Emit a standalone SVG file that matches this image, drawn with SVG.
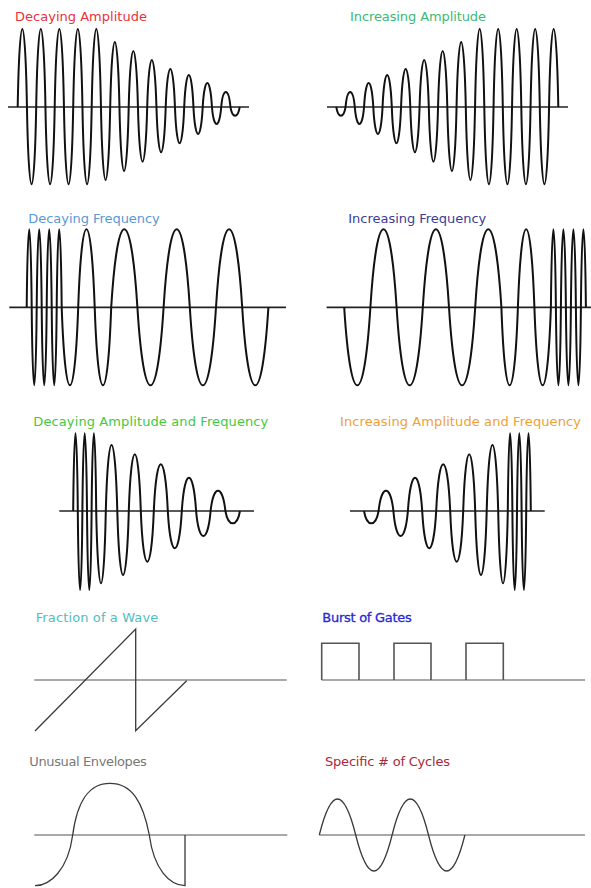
<svg xmlns="http://www.w3.org/2000/svg" width="591" height="888" viewBox="0 0 591 888">
<style>
.wave{fill:none;stroke:#111;stroke-width:2;stroke-linejoin:round}
.axis{fill:none;stroke:#222;stroke-width:1.7}
.gax{fill:none;stroke:#8c8c8c;stroke-width:1.5}
.thin{fill:none;stroke:#3a3a3a;stroke-width:1.3}
.gate{fill:none;stroke:#555;stroke-width:1.6}
.lbl{font-family:"DejaVu Sans","Liberation Sans",sans-serif;font-size:13px}
</style>
<rect width="591" height="888" fill="#fff"/>
<defs>
<g id="p1">
<path class="axis" d="M8,107 H249"/>
<path class="wave" d="M17.7,107 c1.85,-104 7.4,-104 9.25,0 c1.85,103 7.4,103 9.25,0 c1.85,-104 7.4,-104 9.25,0 c1.85,103 7.4,103 9.25,0 c1.85,-104 7.4,-104 9.25,0 c1.85,103 7.4,103 9.25,0 c1.85,-104 7.4,-104 9.25,0 c1.85,103 7.4,103 9.25,0 c1.85,-104 7.4,-104 9.25,0 c1.85,97.3 7.4,97.3 9.25,0 c1.85,-86.7 7.4,-86.7 9.25,0 c1.85,85.3 7.4,85.3 9.25,0 c1.85,-74.7 7.4,-74.7 9.25,0 c1.85,72.9 7.4,72.9 9.25,0 c1.85,-62.7 7.4,-62.7 9.25,0 c1.85,60.4 7.4,60.4 9.25,0 c1.85,-50.7 7.4,-50.7 9.25,0 c1.85,48.4 7.4,48.4 9.25,0 c1.85,-42.7 7.4,-42.7 9.25,0 c1.85,36 7.4,36 9.25,0 c1.85,-32 7.4,-32 9.25,0 c1.85,22.7 7.4,22.7 9.25,0 c1.85,-20 7.4,-20 9.25,0 c1.85,11.6 7.4,11.6 9.25,0"/>
</g>
<g id="p3">
<path class="axis" d="M9.3,307.3 H286"/>
<path class="wave" d="M26.7,307.3 c1,-104 4,-104 5,0 c1,104 4,104 5,0 c1,-104 4,-104 5,0 c1,104 4,104 5,0 c1,-104 4,-104 5,0 c1,104 4,104 5,0 c1,-104 4,-104 5,0 c3.63,104 12.87,104 16.5,0 c3.63,-104 12.87,-104 16.5,0 c3.63,104 12.87,104 16.5,0 c6.55,-104 19.65,-104 26.2,0 c6.55,104 19.65,104 26.2,0 c6.55,-104 19.65,-104 26.2,0 c6.55,104 19.65,104 26.2,0 c6.55,-104 19.65,-104 26.2,0 c6.55,104 19.65,104 26.2,0"/>
</g>
<g id="p5">
<path class="axis" d="M59.3,511 H254"/>
<path class="wave" d="M73.2,511 c0.92,-103.6 3.68,-103.6 4.6,0 c0.92,105.3 3.68,105.3 4.6,0 c0.92,-103.6 3.68,-103.6 4.6,0 c0.92,105.3 3.68,105.3 4.6,0 c0.92,-103.6 3.68,-103.6 4.6,0 c1.92,96.4 7.68,96.4 9.6,0 c2.3,-88 9.2,-88 11.5,0 c2.3,85.3 9.2,85.3 11.5,0 c2.4,-75.6 9.6,-75.6 12,0 c2.6,67.6 10.4,67.6 13,0 c2.8,-62.3 11.2,-62.3 14,0 c2.8,49.7 11.2,49.7 14,0 c2.86,-44.4 11.44,-44.4 14.3,0 c2.9,33.3 11.6,33.3 14.5,0 c2.96,-27.1 11.84,-27.1 14.8,0 c2.92,16.4 11.68,16.4 14.6,0"/>
</g>
</defs>

<g id="decaying-amplitude">
<use href="#p1"/>
<text class="lbl" x="15" y="21" fill="#e8323c" textLength="132">Decaying Amplitude</text>
</g>
<g id="increasing-amplitude">
<use href="#p1" transform="matrix(-1 0 0 1 576 0)"/>
<text class="lbl" x="350" y="21" fill="#3cb878" textLength="136">Increasing Amplitude</text>
</g>
<g id="decaying-frequency">
<use href="#p3"/>
<text class="lbl" x="28.3" y="222.7" fill="#5a98d4" textLength="131.5">Decaying Frequency</text>
</g>
<g id="increasing-frequency">
<use href="#p3" transform="matrix(-1 0 0 1 612.6 0)"/>
<text class="lbl" x="348.3" y="222.7" fill="#3c3c96" textLength="138">Increasing Frequency</text>
</g>
<g id="decaying-amp-freq">
<use href="#p5"/>
<text class="lbl" x="33.3" y="426" fill="#46c83c" textLength="235">Decaying Amplitude and Frequency</text>
</g>
<g id="increasing-amp-freq">
<use href="#p5" transform="matrix(-1 0 0 1 604 0)"/>
<text class="lbl" x="340" y="426" fill="#f0a032" textLength="241">Increasing Amplitude and Frequency</text>
</g>
<g id="fraction-of-a-wave">
<path class="gax" d="M34.3,680 H286.7"/>
<path class="thin" d="M35,731 L135.7,629 L135.7,730.7 L186.7,680.7"/>
<text class="lbl" x="35.7" y="622" fill="#50bec0" textLength="122.5">Fraction of a Wave</text>
</g>
<g id="burst-of-gates">
<path class="gax" d="M321.7,680 H585"/>
<path class="gate" d="M321.7,680 V643.3 H359 V680 M394,680 V643.3 H431 V680 M466,680 V643.3 H503.3 V680"/>
<text class="lbl" x="322.3" y="622" fill="#2828d2" stroke="#2828d2" stroke-width="0.3" textLength="89.5">Burst of Gates</text>
</g>
<g id="unusual-envelopes">
<path class="gax" d="M34.3,835 H287.3"/>
<path class="thin" d="M35,885.7 C50,885.7 68,870 72.7,835 C77,802 88,783.3 110,783.3 C132,783.3 143,802 149.3,835 C154,870 170,885.7 185,885.7 L185,835"/>
<text class="lbl" x="29.3" y="766" fill="#787878" textLength="117.5">Unusual Envelopes</text>
</g>
<g id="specific-cycles">
<path class="gax" d="M319.3,835 H585"/>
<path class="thin" d="M319.3,835 c12,-48 24.4,-48 36.4,0 c12,48 24.4,48 36.4,0 c12,-48 24.4,-48 36.4,0 c12,48 24.4,48 36.4,0"/>
<text class="lbl" x="325" y="766" fill="#aa283c" textLength="125">Specific # of Cycles</text>
</g>
</svg>
